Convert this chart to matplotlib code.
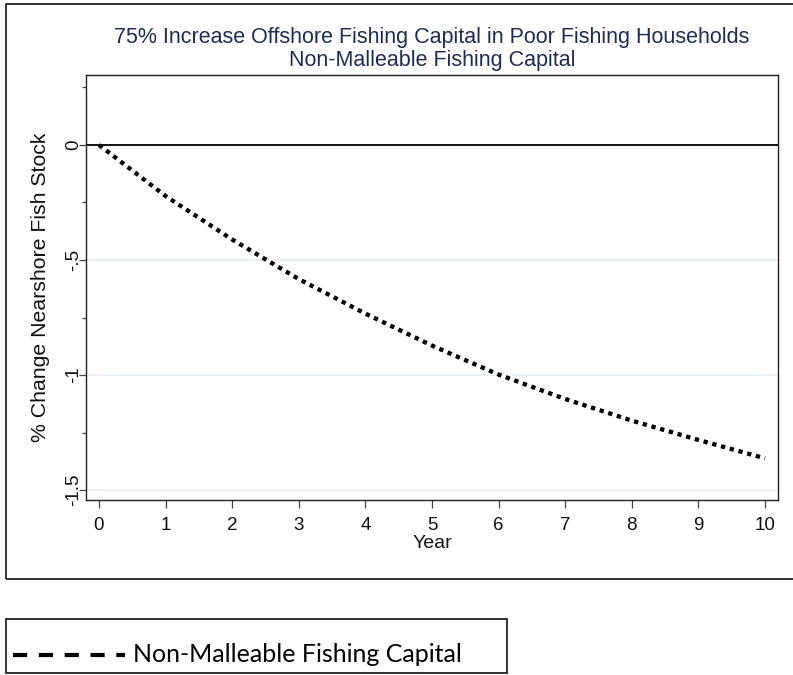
import matplotlib
matplotlib.use("Agg")
import matplotlib.pyplot as plt
from matplotlib.lines import Line2D
from matplotlib.patches import Rectangle

# Simulated path of the nearshore fish stock after the capital shock
years = [0, 1, 2, 3, 4, 5, 6, 7, 8, 9, 10]
pct_change_stock = [0.0, -0.222, -0.411, -0.583, -0.733, -0.872, -0.998,
                    -1.104, -1.198, -1.282, -1.362]

title_lines = ["75% Increase Offshore Fishing Capital in Poor Fishing Households",
               "Non-Malleable Fishing Capital"]
x_label = "Year"
y_label = "% Change Nearshore Fish Stock"
x_ticks = list(range(0, 11))
y_major_ticks = [0, -0.5, -1, -1.5]
y_major_labels = ["0", "-.5", "-1", "-1.5"]
y_minor_ticks = [0.25, -0.25, -0.75, -1.25]
legend_label = "Non-Malleable Fishing Capital"

W, H = 793, 675
fig = plt.figure(figsize=(W / 100, H / 100), dpi=100)
fig.patch.set_facecolor("white")

def fx(px):
    return px / W

def fy(py):
    return 1 - py / H

# Outer frame around the graph region
frame = Rectangle((fx(6), fy(579)), fx(800) - fx(6), fy(4) - fy(579),
                  transform=fig.transFigure, fill=False, edgecolor="#111111",
                  linewidth=1.2, clip_on=False)
fig.add_artist(frame)

ax_l, ax_r, ax_t, ax_b = 86, 778, 75, 500
ax = fig.add_axes([fx(ax_l), fy(ax_b), fx(ax_r - ax_l), fy(ax_t) - fy(ax_b)])

ax.set_xlim(-0.195, 10.195)
ax.set_ylim(-1.543, 0.304)

for y in [-0.5, -1.0, -1.5]:
    ax.axhline(y, color="#e9f1f3", linewidth=1.3, zorder=1)
ax.axhline(0, color="#111111", linewidth=1.4, zorder=2)

ax.plot(years, pct_change_stock, color="black", linewidth=3.1,
        linestyle=(0, (1, 1.1)), zorder=3)

ax.set_xticks(x_ticks)
ax.set_xticklabels([str(t) for t in x_ticks])
ax.set_yticks(y_major_ticks)
ax.set_yticklabels(y_major_labels, rotation=90, va="center")
ax.set_yticks(y_minor_ticks, minor=True)

for lab in ax.get_xticklabels() + ax.get_yticklabels():
    lab.set_fontfamily("Liberation Sans")
    lab.set_fontsize(13.5)
    lab.set_color("#111111")

ax.tick_params(axis="both", which="major", width=0.9,
               color="#444444", direction="out")
ax.tick_params(axis="x", which="major", length=6, pad=6)
ax.tick_params(axis="y", which="major", length=4.7, pad=-2)
ax.tick_params(axis="y", which="minor", length=3, width=0.9, color="#444444")

for side, sp in ax.spines.items():
    sp.set_color("#222222")
    sp.set_linewidth(1.0)

ax.set_xlabel(x_label, fontfamily="Liberation Sans", fontsize=14,
              color="#111111", labelpad=1)
ax.set_ylabel(y_label, fontfamily="Liberation Sans", fontsize=15.3,
              color="#111111", labelpad=11)

title_color = "#1f2d52"
fig.text(fx(432), fy(43), title_lines[0], ha="center", va="baseline",
         fontfamily="Liberation Sans", fontsize=15.5, color=title_color)
fig.text(fx(432), fy(66), title_lines[1], ha="center", va="baseline",
         fontfamily="Liberation Sans", fontsize=15.5, color=title_color)

# Legend panel below the graph
leg_box = Rectangle((fx(6), fy(673)), fx(507) - fx(6), fy(619) - fy(673),
                    transform=fig.transFigure, fill=False, edgecolor="#111111",
                    linewidth=1.2, clip_on=False)
fig.add_artist(leg_box)
sample = Line2D([fx(13), fx(125)], [fy(655), fy(655)], transform=fig.transFigure,
                color="black", linewidth=3.0, linestyle=(0, (3.4, 2.8)))
fig.add_artist(sample)
fig.text(fx(133), fy(655), legend_label, ha="left", va="center",
         fontfamily="Lato", fontsize=18, color="black")

fig.savefig("out.png", dpi=100)
